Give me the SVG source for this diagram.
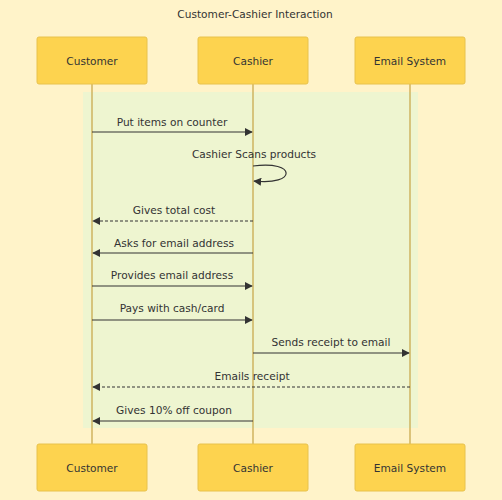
<svg xmlns="http://www.w3.org/2000/svg" width="502" height="500" viewBox="0 0 502 500">
<defs>
<style>
text{font-family:"DejaVu Sans",Verdana,sans-serif;fill:#333;}
.actor rect{fill:#fdd34f;stroke:#e8c24d;stroke-width:1;}
.actor text{font-size:10.6px;text-anchor:middle;}
.life{stroke:#c9a94f;stroke-width:1.3;}
.msg{stroke:#333;stroke-width:1.2;fill:none;}
.dash{stroke-dasharray:3,2;}
.lbl{font-size:10.6px;text-anchor:middle;}
</style>
<marker id="ah" viewBox="0 0 10 10" refX="9" refY="5" markerWidth="8" markerHeight="8" orient="auto-start-reverse" markerUnits="userSpaceOnUse">
<path d="M0,0 L10,5 L0,10 z" fill="#333"/>
</marker>
</defs>
<rect x="0" y="0" width="502" height="500" fill="#fff3c9"/>
<rect x="83" y="92" width="335" height="336" fill="#eef5d0"/>
<text x="255" y="18" class="lbl">Customer-Cashier Interaction</text>
<g id="lifelines">
<line class="life" x1="92" y1="84" x2="92" y2="444"/>
<line class="life" x1="253" y1="84" x2="253" y2="444"/>
<line class="life" x1="410" y1="84" x2="410" y2="444"/>
</g>
<g id="customer" class="actor"><rect x="37" y="37" width="110" height="47" rx="2"/><text x="92" y="65">Customer</text></g>
<g id="cashier" class="actor"><rect x="198" y="37" width="110" height="47" rx="2"/><text x="253" y="65">Cashier</text></g>
<g id="email" class="actor"><rect x="355" y="37" width="110" height="47" rx="2"/><text x="410" y="65">Email System</text></g>
<g id="customer-bottom" class="actor"><rect x="37" y="444" width="110" height="47" rx="2"/><text x="92" y="472">Customer</text></g>
<g id="cashier-bottom" class="actor"><rect x="198" y="444" width="110" height="47" rx="2"/><text x="253" y="472">Cashier</text></g>
<g id="email-bottom" class="actor"><rect x="355" y="444" width="110" height="47" rx="2"/><text x="410" y="472">Email System</text></g>
<g id="connectors">
<line class="msg" x1="92" y1="132" x2="252" y2="132" marker-end="url(#ah)"/>
<text class="lbl" x="172" y="126">Put items on counter</text>
<path class="msg" d="M253,166 C297,160 297,186 254,181" marker-end="url(#ah)"/>
<text class="lbl" x="254" y="158">Cashier Scans products</text>
<line class="msg dash" x1="253" y1="221" x2="93" y2="221" marker-end="url(#ah)"/>
<text class="lbl" x="174" y="214">Gives total cost</text>
<line class="msg" x1="253" y1="253" x2="93" y2="253" marker-end="url(#ah)"/>
<text class="lbl" x="174" y="247">Asks for email address</text>
<line class="msg" x1="92" y1="286" x2="252" y2="286" marker-end="url(#ah)"/>
<text class="lbl" x="172" y="279">Provides email address</text>
<line class="msg" x1="92" y1="320" x2="252" y2="320" marker-end="url(#ah)"/>
<text class="lbl" x="172" y="312">Pays with cash/card</text>
<line class="msg" x1="253" y1="353" x2="409" y2="353" marker-end="url(#ah)"/>
<text class="lbl" x="331" y="346">Sends receipt to email</text>
<line class="msg dash" x1="410" y1="387" x2="93" y2="387" marker-end="url(#ah)"/>
<text class="lbl" x="252" y="380">Emails receipt</text>
<line class="msg" x1="253" y1="421" x2="93" y2="421" marker-end="url(#ah)"/>
<text class="lbl" x="174" y="414">Gives 10% off coupon</text>
</g>
</svg>
